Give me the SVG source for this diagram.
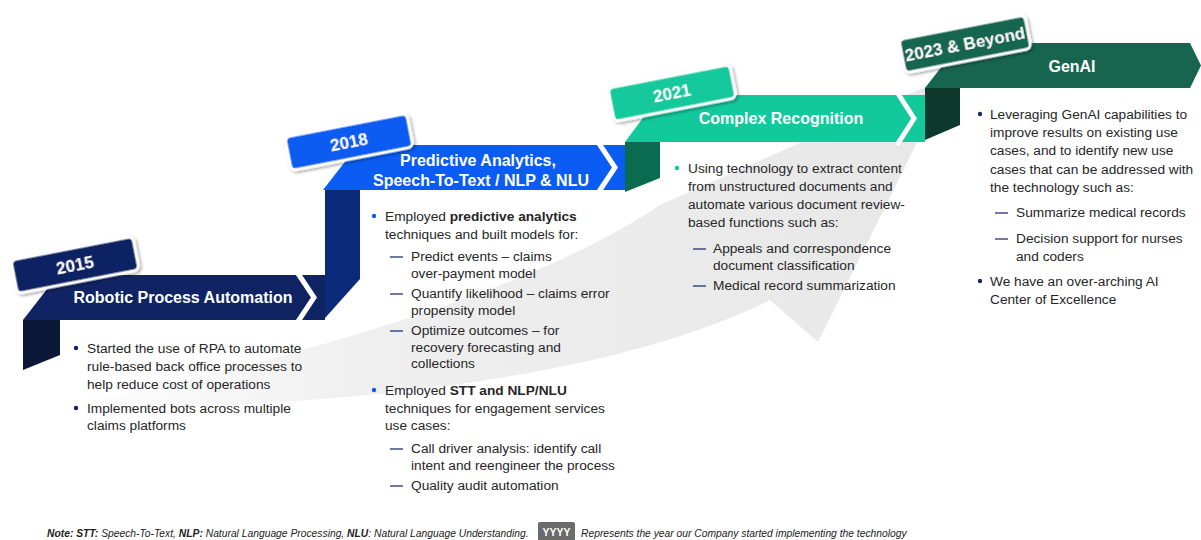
<svg xmlns="http://www.w3.org/2000/svg" width="1201" height="540" viewBox="0 0 1201 540">
<defs>
<linearGradient id="swg" x1="0" y1="0" x2="1" y2="0">
<stop offset="0" stop-color="#ffffff"/>
<stop offset="0.35" stop-color="#efefef"/>
<stop offset="1" stop-color="#e7e7e7"/>
</linearGradient>
<filter id="sh" x="-20%" y="-40%" width="140%" height="180%">
<feDropShadow dx="1.5" dy="2" stdDeviation="1.8" flood-color="#000" flood-opacity="0.35"/>
</filter>
</defs>
<style>
text{font-family:"Liberation Sans",Arial,sans-serif;}
.title{font-size:16px;font-weight:bold;fill:#ffffff;text-anchor:middle;}
.year{font-size:17px;font-weight:bold;fill:#ffffff;text-anchor:middle;}
.body{font-size:13.7px;fill:#262626;}
.chev{fill:none;stroke:#ffffff;stroke-width:5;}
.tag{stroke:#ffffff;stroke-width:3;}
.dash{stroke:#1f3270;stroke-width:1.3;}
.foot{font-size:10.3px;font-style:italic;fill:#222;}
</style>

<path id="swoosh" d="M55,408 C250,370 520,300 660,205 L950,76 L818,342 L770,300 C600,385 300,410 55,408 Z" fill="url(#swg)"/>

<g id="step-2015">
<polygon points="23,320 60,320 60,355 23,370" fill="#0c1838"/>
<polygon points="23,320 58,275 325,275 325,320" fill="#102463"/>
<polyline class="chev" points="297,272 314,297.5 297,323"/>
<text class="title" x="183" y="303">Robotic Process Automation</text>
<g transform="translate(75,265) rotate(-11)" filter="url(#sh)">
<rect class="tag" x="-62" y="-17" width="124" height="34" rx="5" fill="#102463"/>
<text class="year" x="0" y="6">2015</text>
</g>
<circle cx="76" cy="348" r="2.2" fill="#102463"/>
<text class="body" x="87" y="353">Started the use of RPA to automate</text>
<text class="body" x="87" y="371">rule-based back office processes to</text>
<text class="body" x="87" y="389">help reduce cost of operations</text>
<circle cx="76" cy="408" r="2.2" fill="#102463"/>
<text class="body" x="87" y="413">Implemented bots across multiple</text>
<text class="body" x="87" y="430">claims platforms</text>
</g>

<g id="step-2018">
<polygon points="325,190 360,190 360,279 325,318" fill="#0b2a7a"/>
<polygon points="323,190 358,145 625,145 625,190" fill="#0a5cf2"/>
<polyline class="chev" points="598,142 615,167.5 598,193"/>
<text class="title" x="478" y="166">Predictive Analytics,</text>
<text class="title" x="481" y="186">Speech-To-Text / NLP &amp; NLU</text>
<g transform="translate(349,142) rotate(-11)" filter="url(#sh)">
<rect class="tag" x="-62" y="-17" width="124" height="34" rx="5" fill="#0a5cf2"/>
<text class="year" x="0" y="6">2018</text>
</g>
<circle cx="374" cy="216" r="2.2" fill="#0a5cf2"/>
<text class="body" x="385" y="221">Employed <tspan font-weight="bold">predictive analytics</tspan></text>
<text class="body" x="385" y="239">techniques and built models for:</text>
<line class="dash" x1="390" y1="257" x2="403" y2="257"/>
<text class="body" x="411" y="261">Predict events – claims</text>
<text class="body" x="411" y="278">over-payment model</text>
<line class="dash" x1="390" y1="294" x2="403" y2="294"/>
<text class="body" x="411" y="298">Quantify likelihood – claims error</text>
<text class="body" x="411" y="315">propensity model</text>
<line class="dash" x1="390" y1="331" x2="403" y2="331"/>
<text class="body" x="411" y="335">Optimize outcomes – for</text>
<text class="body" x="411" y="352">recovery forecasting and</text>
<text class="body" x="411" y="368">collections</text>
<circle cx="374" cy="390" r="2.2" fill="#0a5cf2"/>
<text class="body" x="385" y="395">Employed <tspan font-weight="bold">STT and NLP/NLU</tspan></text>
<text class="body" x="385" y="413">techniques for engagement services</text>
<text class="body" x="385" y="430">use cases:</text>
<line class="dash" x1="390" y1="449" x2="403" y2="449"/>
<text class="body" x="411" y="453">Call driver analysis: identify call</text>
<text class="body" x="411" y="470">intent and reengineer the process</text>
<line class="dash" x1="390" y1="486" x2="403" y2="486"/>
<text class="body" x="411" y="490">Quality audit automation</text>
</g>

<g id="step-2021">
<polygon points="625,142 660,142 660,178 625,192" fill="#0a6b50"/>
<polygon points="625,142 660,95 925,95 925,142" fill="#12c99c"/>
<polyline class="chev" points="897,92 914,118.5 897,145"/>
<text class="title" x="781" y="124">Complex Recognition</text>
<g transform="translate(672,93) rotate(-11)" filter="url(#sh)">
<rect class="tag" x="-62" y="-17" width="124" height="34" rx="5" fill="#12c99c"/>
<text class="year" x="0" y="6">2021</text>
</g>
<circle cx="677" cy="168" r="2.2" fill="#12c99c"/>
<text class="body" x="688" y="173">Using technology to extract content</text>
<text class="body" x="688" y="191">from unstructured documents and</text>
<text class="body" x="688" y="209">automate various document review-</text>
<text class="body" x="688" y="227">based functions such as:</text>
<line class="dash" x1="693" y1="249" x2="706" y2="249"/>
<text class="body" x="713" y="253">Appeals and correspondence</text>
<text class="body" x="713" y="270">document classification</text>
<line class="dash" x1="693" y1="286" x2="706" y2="286"/>
<text class="body" x="713" y="290">Medical record summarization</text>
</g>

<g id="step-2023">
<polygon points="925,88 960,88 960,125 925,140" fill="#0d3a2c"/>
<polygon points="925,88 960,43 1190,43 1201,65.5 1190,88" fill="#17654f"/>
<text class="title" x="1072" y="72">GenAI</text>
<g transform="translate(965,44) rotate(-11)" filter="url(#sh)">
<rect class="tag" x="-64" y="-17" width="128" height="34" rx="5" fill="#17654f"/>
<text class="year" x="0" y="6" font-size="15.5px">2023 &amp; Beyond</text>
</g>
<circle cx="980" cy="114" r="2.2" fill="#1b2a5a"/>
<text class="body" x="990" y="119">Leveraging GenAI capabilities to</text>
<text class="body" x="990" y="137">improve results on existing use</text>
<text class="body" x="990" y="155">cases, and to identify new use</text>
<text class="body" x="990" y="174">cases that can be addressed with</text>
<text class="body" x="990" y="192">the technology such as:</text>
<line class="dash" x1="995" y1="213" x2="1008" y2="213"/>
<text class="body" x="1016" y="217">Summarize medical records</text>
<line class="dash" x1="995" y1="239" x2="1008" y2="239"/>
<text class="body" x="1016" y="243">Decision support for nurses</text>
<text class="body" x="1016" y="261">and coders</text>
<circle cx="980" cy="281" r="2.2" fill="#1b2a5a"/>
<text class="body" x="990" y="286">We have an over-arching AI</text>
<text class="body" x="990" y="304">Center of Excellence</text>
</g>

<g id="footnote">
<text class="foot" x="47" y="537"><tspan font-weight="bold">Note: STT:</tspan> Speech-To-Text, <tspan font-weight="bold">NLP:</tspan> Natural Language Processing, <tspan font-weight="bold">NLU</tspan>: Natural Language Understanding.</text>
<rect x="538" y="522" width="37" height="19" rx="2" fill="#6b6b6b"/>
<text x="556.5" y="536" font-size="10.5px" font-weight="bold" fill="#ffffff" text-anchor="middle">YYYY</text>
<text class="foot" x="581" y="537">Represents the year our Company started implementing the technology</text>
</g>
<g id="connectors"/>
</svg>
